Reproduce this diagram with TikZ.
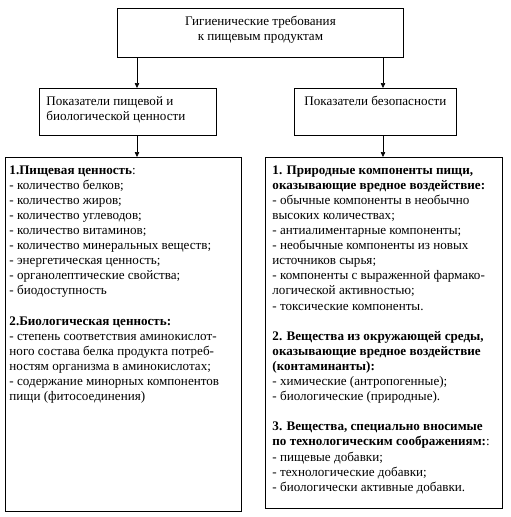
\documentclass[tikz,border=0pt]{standalone}
\usepackage{fontspec}
\setmainfont{Liberation Serif}
\usetikzlibrary{arrows.meta}

\newcommand{\soderzh}[3]{\parbox[c][#2][t]{#1}{\vspace*{8pt}#3}}

\tikzset{
	blok/.style={draw, line width=0.9pt, inner ysep=0pt, anchor=north west,
		font=\fontsize{13.1}{15.1}\selectfont},
	strl/.style={-{Triangle[width=4.5pt,length=5pt]}, line width=0.6pt}
}

\begin{document}
\begin{tikzpicture}[x=1pt,y=-1pt]
	\useasboundingbox (0,0) rectangle (511,517);
	\coordinate (os1) at (137,0);
	\coordinate (os2) at (383,0);
	%	verkh
	\node (gig) at (117,8)[blok, inner xsep=0pt]{\soderzh{286pt}{49pt}{\centering
		Гигиенические требования\\ к пищевым продуктам}};
	\node (pit) at (39,88)[blok, inner xsep=7pt]{\soderzh{163pt}{47pt}{\raggedright
		Показатели пищевой и\\ биологической ценности}};
	\node (bez) at (294,88)[blok, inner xsep=10pt]{\soderzh{142pt}{47pt}{\raggedright
		Показатели безопасности}};
	%	niz
	\node (cen) at (5,157)[blok, inner xsep=4pt]{\soderzh{228pt}{354pt}{\raggedright
		\textbf{1.Пищевая ценность}:\\
		- количество белков;\\
		- количество жиров;\\
		- количество углеводов;\\
		- количество витаминов;\\
		- количество минеральных веществ;\\
		- энергетическая ценность;\\
		- органолептические свойства;\\
		- биодоступность\\[15.1pt]
		\textbf{2.Биологическая ценность:}\\
		- степень соответствия аминокислот-\\
		ного состава белка продукта потреб-\\
		ностям организма в аминокислотах;\\
		- содержание минорных компонентов\\
		пищи (фитосоединения)}};
	\node (vred) at (265,157)[blok, inner xsep=7pt]{\soderzh{223pt}{351pt}{\raggedright
		\textbf{1. Природные компоненты пищи,}\\
		\textbf{оказывающие вредное воздействие:}\\
		- обычные компоненты в необычно\\
		высоких количествах;\\
		- антиалиментарные компоненты;\\
		- необычные компоненты из новых\\
		источников сырья;\\
		- компоненты с выраженной фармако-\\
		логической активностью;\\
		- токсические компоненты.\\[15.1pt]
		\textbf{2. Вещества из окружающей среды,}\\
		\textbf{оказывающие вредное воздействие}\\
		\textbf{(контаминанты):}\\
		- химические (антропогенные);\\
		- биологические (природные).\\[15.1pt]
		\textbf{3. Вещества, специально вносимые}\\
		\textbf{по технологическим соображениям:}:\\
		- пищевые добавки;\\
		- технологические добавки;\\
		- биологически активные добавки.}};
	\draw[strl] (gig.south -| os1) -- (pit.north -| os1);
	\draw[strl] (gig.south -| os2) -- (bez.north -| os2);
	\draw[strl] (pit.south -| os1) -- (cen.north -| os1);
	\draw[strl] (bez.south -| os2) -- (vred.north -| os2);
\end{tikzpicture}
\end{document}
